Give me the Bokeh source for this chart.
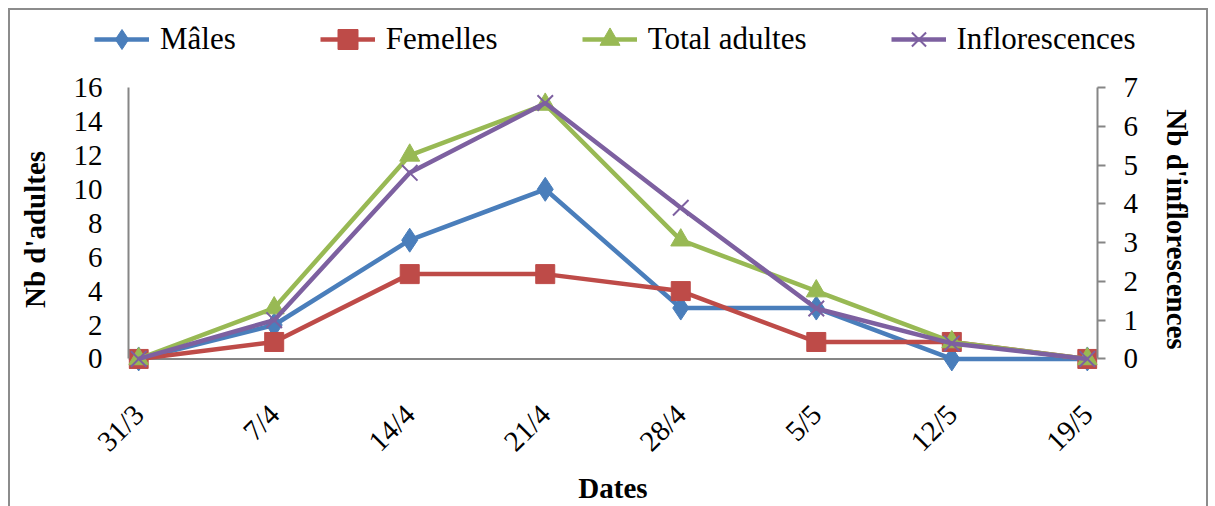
import math
from bokeh.plotting import figure
from bokeh.layouts import column
from bokeh.models import Range1d, LinearAxis, Legend, LegendItem, FixedTicker, Span
from bokeh.embed import file_html
from bokeh.resources import INLINE

dates = ["31/3", "7/4", "14/4", "21/4", "28/4", "5/5", "12/5", "19/5"]
males = [0, 2, 7, 10, 3, 3, 0, 0]
females = [0, 1, 5, 5, 4, 1, 1, 0]
total = [0, 3, 12, 15, 7, 4, 1, 0]
infl = [0, 1, 4.8, 6.6, 3.9, 1.3, 0.4, 0]
series_names = ["Mâles", "Femelles", "Total adultes", "Inflorescences"]

xs = list(range(len(dates)))
FONT = "Liberation Serif"
FS = "29px"
LFS = "31px"
GRAY = "#868686"
BORDER = "2px solid #8c8c8c"
YMIN = -0.74
BLUE, RED, GREEN, PURPLE = "#4A7EBB", "#BE4B48", "#98B954", "#7D60A0"
LW = 4.5

# ---------- legend strip ----------
leg = figure(width=1200, height=56, output_backend="svg", toolbar_location=None,
             x_axis_type=None, y_axis_type=None, x_range=Range1d(0, 1), y_range=Range1d(0, 1),
             min_border_left=0, min_border_right=0, min_border_top=0, min_border_bottom=0)
leg.frame_align = False
leg.styles = {"border-left": BORDER, "border-top": BORDER, "border-right": BORDER}
leg.outline_line_color = None
leg.grid.visible = False

specs = [(BLUE, "diamond"), (RED, "square"), (GREEN, "triangle"), (PURPLE, "x")]
items = []
for name, (col, mk) in zip(series_names, specs):
    # placeholder renderers outside the visible range: only used to draw legend glyphs
    lr = leg.line(x=[5, 6], y=[5, 6], line_color=col, line_width=LW)
    if mk == "x":
        sr = leg.scatter(x=[5], y=[5], marker=mk, line_color=col, line_width=2)
    else:
        sr = leg.scatter(x=[5], y=[5], marker=mk, fill_color=col, line_color=col)
    items.append(LegendItem(label=name, renderers=[lr, sr]))

legend = Legend(items=items, location=(84, 2), orientation="horizontal",
                border_line_color=None, background_fill_alpha=0,
                padding=0, margin=0, spacing=84, glyph_width=55, glyph_height=50,
                label_standoff=11, label_height=50, label_text_color="black",
                label_text_font=FONT, label_text_font_size=LFS)
leg.add_layout(legend, "center")

# ---------- main chart ----------
p = figure(width=1200, height=442, output_backend="svg", toolbar_location=None,
           x_range=Range1d(-0.075, 7.075), y_range=Range1d(YMIN, 16),
           min_border_left=118, min_border_right=113, min_border_top=23, min_border_bottom=125)
p.frame_align = False
p.styles = {"border-left": BORDER, "border-right": BORDER}
p.extra_y_ranges = {"r": Range1d(YMIN * 7 / 16, 7)}
p.outline_line_color = None
p.grid.visible = False

xa = p.xaxis[0]
xa.ticker = FixedTicker(ticks=xs)
xa.major_label_overrides = {i: d for i, d in enumerate(dates)}
xa.major_label_orientation = math.pi / 4
xa.major_tick_out = 0
xa.major_tick_in = 0
xa.minor_tick_out = 0
xa.minor_tick_in = 0
xa.axis_line_color = None
xa.major_label_text_font = FONT
xa.major_label_text_font_size = FS
xa.major_label_text_color = "black"
xa.major_label_standoff = 38
xa.axis_label = "Dates"
xa.axis_label_text_font = FONT
xa.axis_label_text_font_size = FS
xa.axis_label_text_font_style = "bold"
xa.axis_label_text_color = "black"
xa.axis_label_standoff = 0

ya = p.yaxis[0]
ya.ticker = FixedTicker(ticks=list(range(0, 17, 2)))
ya.bounds = (0, 16)
ya.major_tick_out = 0
ya.major_tick_in = 0
ya.minor_tick_out = 0
ya.minor_tick_in = 0
ya.axis_line_color = GRAY
ya.axis_line_width = 2
ya.major_label_text_font = FONT
ya.major_label_text_font_size = FS
ya.major_label_text_color = "black"
ya.major_label_standoff = 26
ya.axis_label = "Nb d'adultes"
ya.axis_label_text_font = FONT
ya.axis_label_text_font_size = FS
ya.axis_label_text_font_style = "bold"
ya.axis_label_text_color = "black"
ya.axis_label_standoff = 20

ra = LinearAxis(y_range_name="r", ticker=FixedTicker(ticks=list(range(0, 8))), bounds=(0, 7))
ra.major_tick_out = 8
ra.major_tick_in = 0
ra.minor_tick_out = 0
ra.minor_tick_in = 0
ra.major_tick_line_color = GRAY
ra.major_tick_line_width = 2
ra.axis_line_color = GRAY
ra.axis_line_width = 2
ra.major_label_text_font = FONT
ra.major_label_text_font_size = FS
ra.major_label_text_color = "black"
ra.major_label_standoff = 18
ra.axis_label = "Nb d'inflorescences"
ra.axis_label_text_font = FONT
ra.axis_label_text_font_size = FS
ra.axis_label_text_font_style = "bold"
ra.axis_label_text_color = "black"
ra.axis_label_standoff = 20
p.add_layout(ra, "right")

p.add_layout(Span(location=0, dimension="width", line_color=GRAY, line_width=2, level="underlay"))

p.line(xs, males, line_color=BLUE, line_width=LW)
p.scatter(xs, males, marker="diamond", size=24, fill_color=BLUE, line_color=BLUE)
p.line(xs, females, line_color=RED, line_width=LW)
p.scatter(xs, females, marker="square", size=19, fill_color=RED, line_color=RED)
p.line(xs, total, line_color=GREEN, line_width=LW)
p.scatter(xs, total, marker="triangle", size=20, fill_color=GREEN, line_color=GREEN)
p.line(xs, infl, line_color=PURPLE, line_width=LW, y_range_name="r")
p.scatter(xs, infl, marker="x", size=22, line_color=PURPLE, line_width=2, y_range_name="r")

layout = column(leg, p, spacing=0)
layout.margin = (8, 0, 0, 8)

open("out.html", "w").write(file_html(layout, INLINE))
